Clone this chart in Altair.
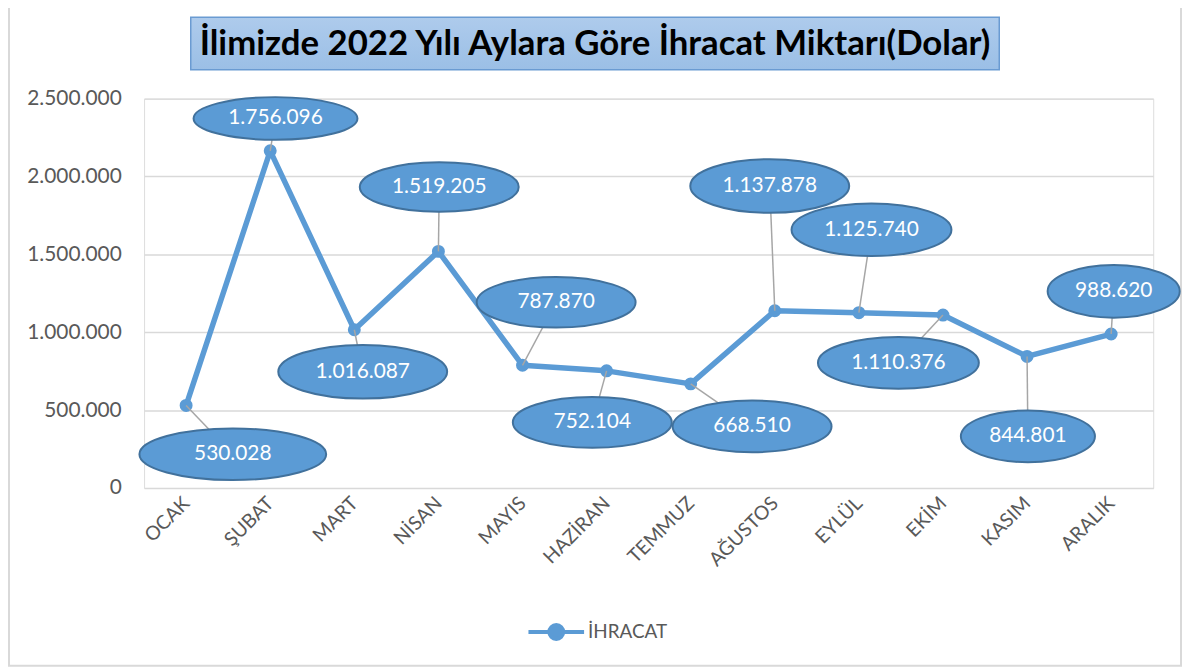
import json
import altair as alt
import pandas as pd

# ---- data ----
months = ["OCAK", "ŞUBAT", "MART", "NİSAN", "MAYIS", "HAZİRAN",
          "TEMMUZ", "AĞUSTOS", "EYLÜL", "EKİM", "KASIM", "ARALIK"]
# plotted positions of the markers (ŞUBAT marker is drawn higher than its label says)
values = [530028, 2165000, 1016087, 1519205, 787870, 752104,
          668510, 1137878, 1125740, 1110376, 844801, 988620]
labels = ["530.028", "1.756.096", "1.016.087", "1.519.205", "787.870", "752.104",
          "668.510", "1.137.878", "1.125.740", "1.110.376", "844.801", "988.620"]
series_name = "İHRACAT"
title_text = "İlimizde 2022 Yılı Aylara Göre İhracat Miktarı(Dolar)"
y_ticks = [0, 500000, 1000000, 1500000, 2000000, 2500000]

# ---- callout placement (layout, in data units) ----
label_x = [0.555, 1.063, 2.10, 3.01, 4.40, 4.83, 6.73, 6.94, 8.15, 8.47, 10.01, 11.03]
label_y = [216850, 2372600, 746200, 1932500, 1192700, 420900,
           395400, 1938900, 1658300, 803600, 331700, 1262800]
bubble_w = [188, 165, 170, 160, 160, 160, 160, 160, 161, 162, 135, 133]
bubble_h = [52, 43, 54, 50, 51, 51, 52, 54, 53, 52, 52, 53]

BLUE = "#5B9BD5"
DARK = "#41719C"
GRAY = "#595959"
GRID = "#D9D9D9"
FONT = "Lato"


def ellipse_path(w, h):
    r = h / w
    return f"M-1,0A1,{r:.4f} 0 1,1 1,0A1,{r:.4f} 0 1,1 -1,0Z"


df = pd.DataFrame({
    "i": list(range(len(months))),
    "month": months,
    "value": values,
    "label": labels,
    "lx": label_x,
    "ly": label_y,
    "shape": [ellipse_path(w, h) for w, h in zip(bubble_w, bubble_h)],
    "size": [w * w for w in bubble_w],
    "series": [series_name] * len(months),
})

W, H = 1016, 392
PAD = {"left": 137, "top": 89, "right": 31, "bottom": 180}

x_scale = alt.Scale(domain=[-0.5, len(months) - 0.5], nice=False, zero=False)
y_scale = alt.Scale(domain=[0, 2500000], nice=False)

month_js = json.dumps(months, ensure_ascii=False)

x_axis = alt.Axis(
    values=list(range(len(months))), labelExpr=f"{month_js}[datum.value]",
    labelAngle=-45, labelAlign="right", labelBaseline="middle",
    labelPadding=12, labelFontSize=19.5, labelColor=GRAY, labelFont=FONT,
    ticks=False, domain=False, grid=False, title=None,
)
y_axis = alt.Axis(
    values=y_ticks, labelExpr="replace(format(datum.value, ','), /,/g, '.')",
    labelFontSize=21, labelColor=GRAY, labelFont=FONT, labelPadding=23,
    ticks=False, domain=False, grid=True, gridColor=GRID, gridWidth=1.5,
    title=None,
)

base = alt.Chart(df)

line = base.mark_line(strokeWidth=5.5, strokeJoin="round").encode(
    x=alt.X("i:Q", scale=x_scale, axis=x_axis),
    y=alt.Y("value:Q", scale=y_scale, axis=y_axis),
    color=alt.Color(
        "series:N",
        scale=alt.Scale(domain=[series_name], range=[BLUE]),
        legend=alt.Legend(
            title=None, orient="none", legendX=385, legendY=507,
            symbolType="M-1,0L1,0M-0.25,0A0.25,0.25 0 1,1 0.25,0A0.25,0.25 0 1,1 -0.25,0Z",
            symbolSize=3136, symbolStrokeWidth=4, symbolFillColor=BLUE,
            symbolStrokeColor=BLUE, symbolOpacity=1,
            labelFontSize=19, labelColor=GRAY, labelFont=FONT, labelOffset=2,
        ),
    ),
)

points = base.mark_circle(size=170, opacity=1, color=BLUE).encode(
    x=alt.X("i:Q", scale=x_scale),
    y=alt.Y("value:Q", scale=y_scale),
)

leaders = base.mark_rule(color="#A6A6A6", strokeWidth=1.5).encode(
    x=alt.X("i:Q", scale=x_scale),
    y=alt.Y("value:Q", scale=y_scale),
    x2="lx:Q",
    y2="ly:Q",
)

bubbles = base.mark_point(filled=True, fill=BLUE, stroke=DARK, strokeWidth=2,
                          opacity=1, fillOpacity=1, strokeOpacity=1).encode(
    x=alt.X("lx:Q", scale=x_scale),
    y=alt.Y("ly:Q", scale=y_scale),
    shape=alt.Shape("shape:N", scale=None, legend=None),
    size=alt.Size("size:Q", scale=None, legend=None),
)

bubble_text = base.mark_text(color="white", fontSize=21, font=FONT,
                             align="center", baseline="middle").encode(
    x=alt.X("lx:Q", scale=x_scale),
    y=alt.Y("ly:Q", scale=y_scale),
    text="label:N",
)

deco = alt.Chart(alt.Data(values=[{}]))

title_box = deco.mark_rect(
    fill=alt.Gradient(gradient="linear", x1=0, y1=0, x2=0, y2=1,
                      stops=[alt.GradientStop(color="#AECBEC", offset=0),
                             alt.GradientStop(color="#9BBFE6", offset=1)]),
    stroke="#6A9BD2", strokeWidth=1.5,
).encode(
    x=alt.value(192 - 145), x2=alt.value(1006 - 145),
    y=alt.value(15 - 97), y2=alt.value(68 - 97),
)

title_label = deco.mark_text(fontSize=35, fontWeight="bold", font=FONT,
                             color="black", align="center",
                             baseline="middle").encode(
    x=alt.value((192 + 1006) / 2 - 145), y=alt.value(42 - 97),
    text=alt.value(title_text),
)

border = deco.mark_rect(fill=None, stroke=GRID, strokeWidth=2, filled=False).encode(
    x=alt.value(9 - 145), x2=alt.value(1189 - 145),
    y=alt.value(-120), y2=alt.value(668 - 97),
)

chart = alt.layer(
    border, line, points, leaders, bubbles, bubble_text, title_box, title_label
).properties(
    width=W, height=H, padding=PAD,
    autosize=alt.AutoSizeParams(type="none"),
).configure_view(stroke=None).configure(background="white")

chart.save("out.html", embed_options={"renderer": "svg", "actions": False})
